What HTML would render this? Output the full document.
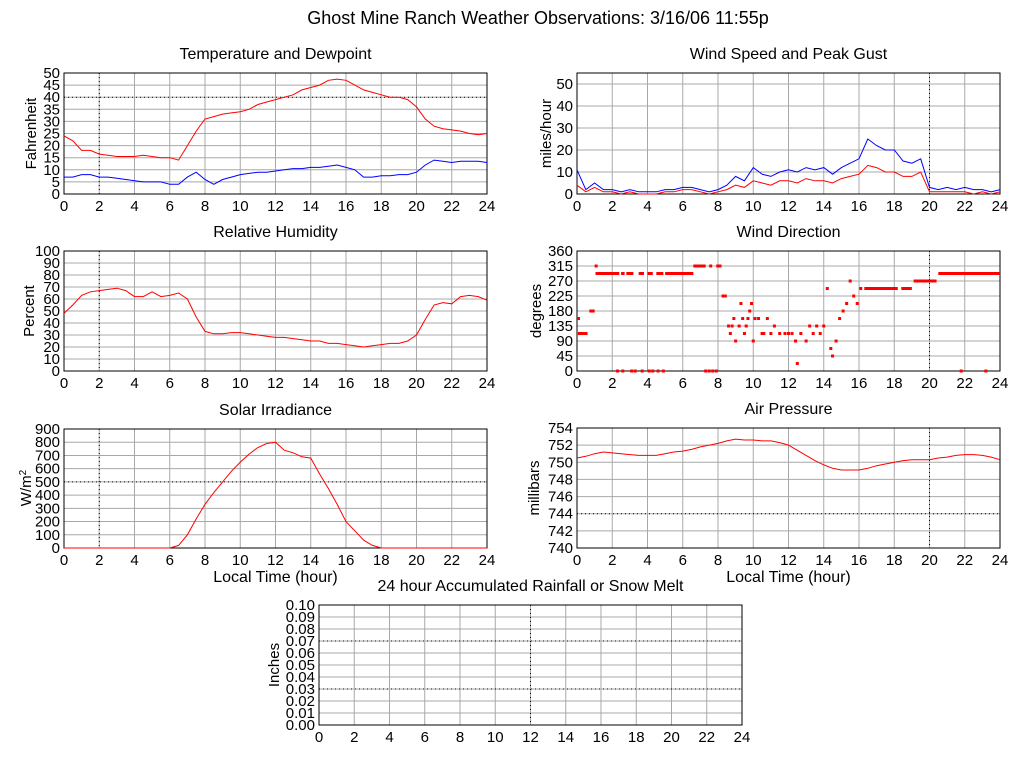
<!DOCTYPE html>
<html><head><meta charset="utf-8"><style>
body{margin:0;background:#fff;}
svg{display:block;font-family:"Liberation Sans",Arial,sans-serif;}
</style></head><body>
<svg id="c" width="1024" height="768" xmlns="http://www.w3.org/2000/svg"></svg>
<script>
const hours = [];
for (let i = 0; i <= 48; i++) hours.push(i / 2);
const tempF = [24,22,18,18,16.5,16,15.5,15.5,15.5,16,15.5,15,15,14,20,26,31,32,33,33.5,34,35,37,38,39,40,41,43,44,45,47,47.5,47,45,43,42,41,40,40,39,36,31,28,27,26.5,26,25,24.5,25];
const dewF = [7,7,8,8,7,7,6.5,6,5.5,5,5,5,4,4,7,9,6,4,6,7,8,8.5,9,9,9.5,10,10.5,10.5,11,11,11.5,12,11,10,7,7,7.5,7.5,8,8,9,12,14,13.5,13,13.5,13.5,13.5,13];
const rhPct = [48,55,63,66,67,68,69,67,62,62,66,62,63,65,60,45,33,31,31,32,32,31,30,29,28,28,27,26,25,25,23,23,22,21,20,21,22,23,23,25,30,43,55,57,56,62,63,62,59];
const gustMph = [11,2,5,2,2,1,2,1,1,1,2,2,3,3,2,1,2,4,8,6,12,9,8,10,11,10,12,11,12,9,12,14,16,25,22,20,20,15,14,16,3,2,3,2,3,2,2,1,2];
const speedMph = [4,1,3,1,1,0,1,0,0,0,1,1,2,2,1,0,1,2,4,3,6,5,4,6,6,5,7,6,6,5,7,8,9,13,12,10,10,8,8,10,1,1,1,1,1,0,1,0,1];
const solarW = [0,0,0,0,0,0,0,0,0,0,0,0,0,20,100,220,330,420,500,580,650,710,760,790,800,740,720,690,680,560,450,330,200,130,60,20,0,0,0,0,0,0,0,0,0,0,0,0,0];
const pressMb = [750.5,750.7,751,751.2,751.1,751,750.9,750.8,750.8,750.8,751,751.2,751.3,751.5,751.8,752,752.2,752.5,752.7,752.6,752.6,752.5,752.5,752.3,752,751.4,750.8,750.2,749.7,749.3,749.1,749.1,749.1,749.3,749.6,749.8,750,750.2,750.3,750.3,750.3,750.5,750.6,750.8,750.9,750.9,750.8,750.6,750.3];
const dirRunStart = [0,0.05,0.7,1,1.05,2.5,2.8,3.5,4,4.5,5,6.6,7.5,7.9,8.2,16.3,18.4,19.1,20.5];
const dirRunEnd   = [0.1,0.6,1.0,1.1,2.4,2.7,3.2,3.8,4.3,4.9,6.6,7.3,7.6,8.2,8.5,18.2,19.0,20.4,24];
const dirRunDeg   = [157.5,112.5,180,315,292.5,292.5,292.5,292.5,292.5,292.5,292.5,315,315,315,225,247.5,247.5,270,292.5];
const dirPtHour = [2.3,2.6,3.1,3.3,3.7,4.1,4.3,4.6,4.9,7.3,7.5,7.7,7.9,8.6,8.7,8.8,8.9,9.0,9.2,9.3,9.4,9.5,9.6,9.7,9.8,9.9,10,10.1,10.3,10.5,10.6,10.8,11,11.2,11.5,11.8,12,12.2,12.4,12.5,12.7,13,13.2,13.4,13.6,13.8,14,14.2,14.4,14.5,14.7,14.9,15.1,15.3,15.5,15.7,15.9,16.1,21.8,23.2];
const dirPtDeg  = [0,0,0,0,0,0,0,0,0,0,0,0,0,135,112.5,135,157.5,90,135,202.5,157.5,112.5,135,157.5,180,202.5,90,157.5,157.5,112.5,112.5,157.5,112.5,135,112.5,112.5,112.5,112.5,90,22.5,112.5,90,135,112.5,135,112.5,135,247.5,67.5,45,90,157.5,180,202.5,270,225,202.5,247.5,0,0];
const rainIn = [];

const svg = document.getElementById('c');
const NS = 'http://www.w3.org/2000/svg';
function mk(tag, attrs, parent) {
  const e = document.createElementNS(NS, tag);
  for (const k in attrs) e.setAttribute(k, attrs[k]);
  (parent || svg).appendChild(e);
  return e;
}
function txt(x, y, s, size, anchor, parent, rot) {
  const t = mk('text', {x: x, y: y, 'font-size': size, 'text-anchor': anchor || 'middle', fill: '#000'}, parent);
  if (rot) t.setAttribute('transform', 'rotate(-90 ' + x + ' ' + y + ')');
  t.textContent = s;
  return t;
}
function panel(o) {
  const g = mk('g', {});
  
  
  const sx = h => o.x0 + (h / 24) * (o.x1 - o.x0);
  const sy = v => o.y1 - (v - o.ymin) / (o.ymax - o.ymin) * (o.y1 - o.y0);
  const t = txt((o.x0 + o.x1) / 2, o.y0 - 14, o.title, 16, 'middle', g);
  
  
  for (let h = 2; h < 24; h += 2) mk('line', {x1: sx(h), x2: sx(h), y1: o.y0, y2: o.y1, stroke: '#a8a8a8', 'stroke-width': 1}, g);
  o.yticks.forEach(v => {
    if (v > o.ymin && v < o.ymax + 1e-9) mk('line', {x1: o.x0, x2: o.x1, y1: sy(v), y2: sy(v), stroke: '#a8a8a8', 'stroke-width': 1}, g);
  });
  if (o.dotX !== undefined) mk('line', {x1: sx(o.dotX), x2: sx(o.dotX), y1: o.y0, y2: o.y1, stroke: '#000', 'stroke-width': 1, 'stroke-dasharray': '1,3'}, g);
  (o.dotY || []).forEach(v => mk('line', {x1: o.x0, x2: o.x1, y1: sy(v), y2: sy(v), stroke: '#000', 'stroke-width': 1, 'stroke-dasharray': '1,3'}, g));
  mk('rect', {x: o.x0, y: o.y0, width: o.x1 - o.x0, height: o.y1 - o.y0, fill: 'none', stroke: '#000', 'stroke-width': 1}, g);
  o.yticks.forEach((v, i) => {
    const l = txt(o.x0 - 4, sy(v) + 5, o.ylabels[i], 15, 'end', g);
    
    
  });
  for (let h = 0; h <= 24; h += 2) {
    const l = txt(sx(h), o.y1 + 17, String(h), 15, 'middle', g);
    
    
  }
  const yt = txt(o.x0 - o.ytOff, (o.y0 + o.y1) / 2, o.ytitle, 15, 'middle', g, true);
  
  
  if (o.xtitle) {
    const xt = txt((o.x0 + o.x1) / 2, o.y1 + 34, o.xtitle, 16, 'middle', g);
    
    
  }
  (o.series || []).forEach(s => {
    const pts = s.vals.map((v, i) => sx(hours[i]).toFixed(1) + ',' + sy(v).toFixed(1)).join(' ');
    const p = mk('polyline', {points: pts, fill: 'none', stroke: s.color, 'stroke-width': 1}, g);
    
    
  });
  return {g, sx, sy};
}

const title = txt(538, 24, 'Ghost Mine Ranch Weather Observations: 3/16/06 11:55p', 18, 'middle');



const yT = [0,5,10,15,20,25,30,35,40,45,50];
panel({name: 'temperature-panel', title: 'Temperature and Dewpoint', x0: 64, x1: 487, y0: 73, y1: 194, ymin: 0, ymax: 50,
  yticks: yT, ylabels: yT.map(String), ytitle: 'Fahrenheit', ytOff: 28, dotX: 2, dotY: [40],
  series: [{vals: tempF, color: '#f00', name: 'temperature-line'}, {vals: dewF, color: '#00f', name: 'dewpoint-line'}]});

const yW = [0,10,20,30,40,50];
panel({name: 'wind-speed-panel', title: 'Wind Speed and Peak Gust', x0: 577, x1: 1000, y0: 73, y1: 194, ymin: 0, ymax: 55,
  yticks: yW, ylabels: yW.map(String), ytitle: 'miles/hour', ytOff: 26, dotX: 20,
  series: [{vals: gustMph, color: '#00f', name: 'peak-gust-line'}, {vals: speedMph, color: '#f00', name: 'wind-speed-line'}]});

const yR = [0,10,20,30,40,50,60,70,80,90,100];
panel({name: 'humidity-panel', title: 'Relative Humidity', x0: 64, x1: 487, y0: 251, y1: 371, ymin: 0, ymax: 100,
  yticks: yR, ylabels: yR.map(String), ytitle: 'Percent', ytOff: 30, dotX: 2,
  series: [{vals: rhPct, color: '#f00', name: 'humidity-line'}]});

const yD = [0,45,90,135,180,225,270,315,360];
const wd = panel({name: 'wind-direction-panel', title: 'Wind Direction', x0: 577, x1: 1000, y0: 251, y1: 371, ymin: 0, ymax: 360,
  yticks: yD, ylabels: yD.map(String), ytitle: 'degrees', ytOff: 36, dotX: 20});
dirRunStart.forEach((s, i) => {
  const r = mk('rect', {x: wd.sx(s), y: wd.sy(dirRunDeg[i]) - 1.5, width: Math.max(3, wd.sx(dirRunEnd[i]) - wd.sx(s)), height: 3, fill: '#f00'}, wd.g);
  
  
});
dirPtHour.forEach((h, i) => {
  const r = mk('rect', {x: wd.sx(h) - 1.5, y: wd.sy(dirPtDeg[i]) - 1.5, width: 3, height: 3, fill: '#f00'}, wd.g);
  
  
});

const yS = [0,100,200,300,400,500,600,700,800,900];
const sp = panel({name: 'solar-panel', title: 'Solar Irradiance', x0: 64, x1: 487, y0: 429, y1: 548, ymin: 0, ymax: 900,
  yticks: yS, ylabels: yS.map(String), ytitle: '', ytOff: 36, dotX: 2, dotY: [500], xtitle: 'Local Time (hour)',
  series: [{vals: solarW, color: '#f00', name: 'solar-line'}]});
const wm = mk('text', {x: 31, y: 488, 'font-size': 15, 'text-anchor': 'middle', transform: 'rotate(-90 31 488)'}, sp.g);


wm.innerHTML = 'W/m<tspan dy="-5" font-size="10">2</tspan>';

const yP = [740,742,744,746,748,750,752,754];
panel({name: 'pressure-panel', title: 'Air Pressure', x0: 577, x1: 1000, y0: 428, y1: 548, ymin: 740, ymax: 754,
  yticks: yP, ylabels: yP.map(String), ytitle: 'millibars', ytOff: 38, dotX: 20, dotY: [744], xtitle: 'Local Time (hour)',
  series: [{vals: pressMb, color: '#f00', name: 'pressure-line'}]});

const yRain = [0,0.01,0.02,0.03,0.04,0.05,0.06,0.07,0.08,0.09,0.10];
panel({name: 'rainfall-panel', title: '24 hour Accumulated Rainfall or Snow Melt', x0: 319, x1: 742, y0: 605, y1: 725, ymin: 0, ymax: 0.1,
  yticks: yRain, ylabels: yRain.map(v => v.toFixed(2)), ytitle: 'Inches', ytOff: 40, dotX: 12, dotY: [0.03, 0.07], series: []});
</script>
</body></html>
